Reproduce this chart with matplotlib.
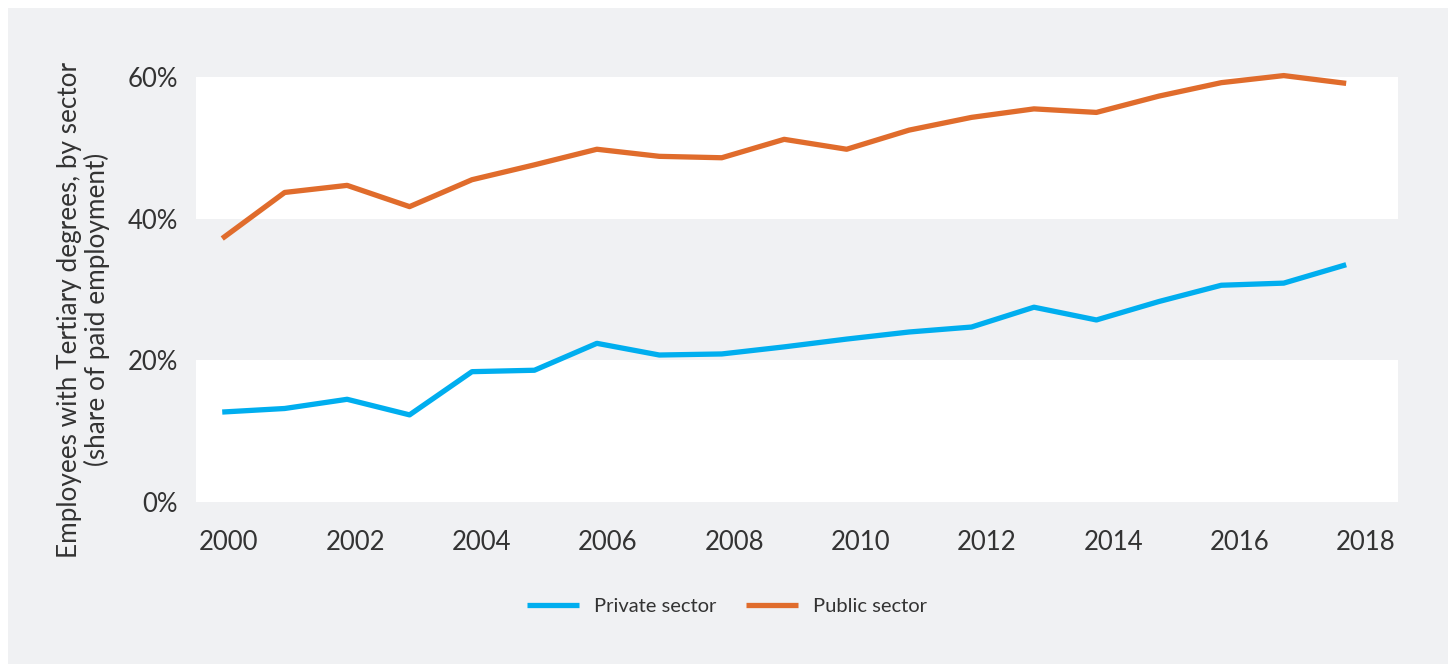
import matplotlib.pyplot as plt
from matplotlib.patches import Rectangle
from matplotlib.ticker import PercentFormatter

years = list(range(2000, 2019))
private_sector = [12.7, 13.2, 14.5, 12.3, 18.4, 18.6, 22.4, 20.75, 20.9, 21.9,
                  23.0, 24.0, 24.7, 27.5, 25.7, 28.3, 30.6, 30.9, 33.5]
public_sector = [37.2, 43.7, 44.7, 41.7, 45.5, 47.6, 49.8, 48.8, 48.6, 51.2,
                 49.8, 52.5, 54.3, 55.5, 55.0, 57.3, 59.2, 60.2, 59.1]
tick_years = list(range(2000, 2019, 2))

panel = "#f0f1f3"
text_col = "#333333"
blue = "#00aeef"
orange = "#e06c2c"

plt.rcParams["font.family"] = ["Lato", "DejaVu Sans"]

fig = plt.figure(figsize=(14.48, 6.64), dpi=100, facecolor="white")
fig.patches.append(Rectangle((8 / 1448, 0), 1 - 8 / 1448, 1 - 8 / 664,
                             transform=fig.transFigure, facecolor=panel,
                             edgecolor="none", zorder=0))

ax = fig.add_axes([196 / 1448, 162 / 664, 1202 / 1448, 425 / 664])
ax.set_zorder(2)
ax.set_facecolor(panel)

# alternating white bands behind the lines
for lo in (0, 40):
    ax.axhspan(lo, lo + 20, color="white", zorder=0, lw=0)

ax.plot(years, private_sector, color=blue, lw=3.8, label="Private sector",
        solid_capstyle="butt", zorder=3, clip_on=False)
ax.plot(years, public_sector, color=orange, lw=3.8, label="Public sector",
        solid_capstyle="butt", zorder=3, clip_on=False)

ax.set_xlim(1999.58, 2018.83)
ax.set_ylim(0, 60)
ax.set_yticks([0, 20, 40, 60])
ax.yaxis.set_major_formatter(PercentFormatter(decimals=0))
ax.set_xticks([])

# year labels sit on their own category-style scale, a little wider than the data
xlab = ax.twiny()
xlab.set_xlim(1999.48, 2018.51)
xlab.set_xticks(tick_years)
xlab.xaxis.set_ticks_position("bottom")
xlab.xaxis.set_label_position("bottom")

for a in (ax, xlab):
    for s in a.spines.values():
        s.set_visible(False)
    a.tick_params(axis="both", length=0, labelsize=18.5, colors=text_col)
ax.tick_params(axis="y", pad=13)
xlab.tick_params(axis="x", pad=20)

ax.set_ylabel("Employees with Tertiary degrees, by sector\n(share of paid employment)",
              fontsize=18.8, color=text_col, linespacing=1.1)
ax.yaxis.set_label_coords(-0.0715, 0.452)

leg = fig.legend(loc="center", bbox_to_anchor=(727 / 1448, 1 - 606 / 664), ncol=2,
                 frameon=False, fontsize=14.5, labelcolor=text_col, handlelength=2.55,
                 columnspacing=1.5, handletextpad=0.75)
leg.set_zorder(3)

fig.savefig("out.png", dpi=100, facecolor=fig.get_facecolor())
